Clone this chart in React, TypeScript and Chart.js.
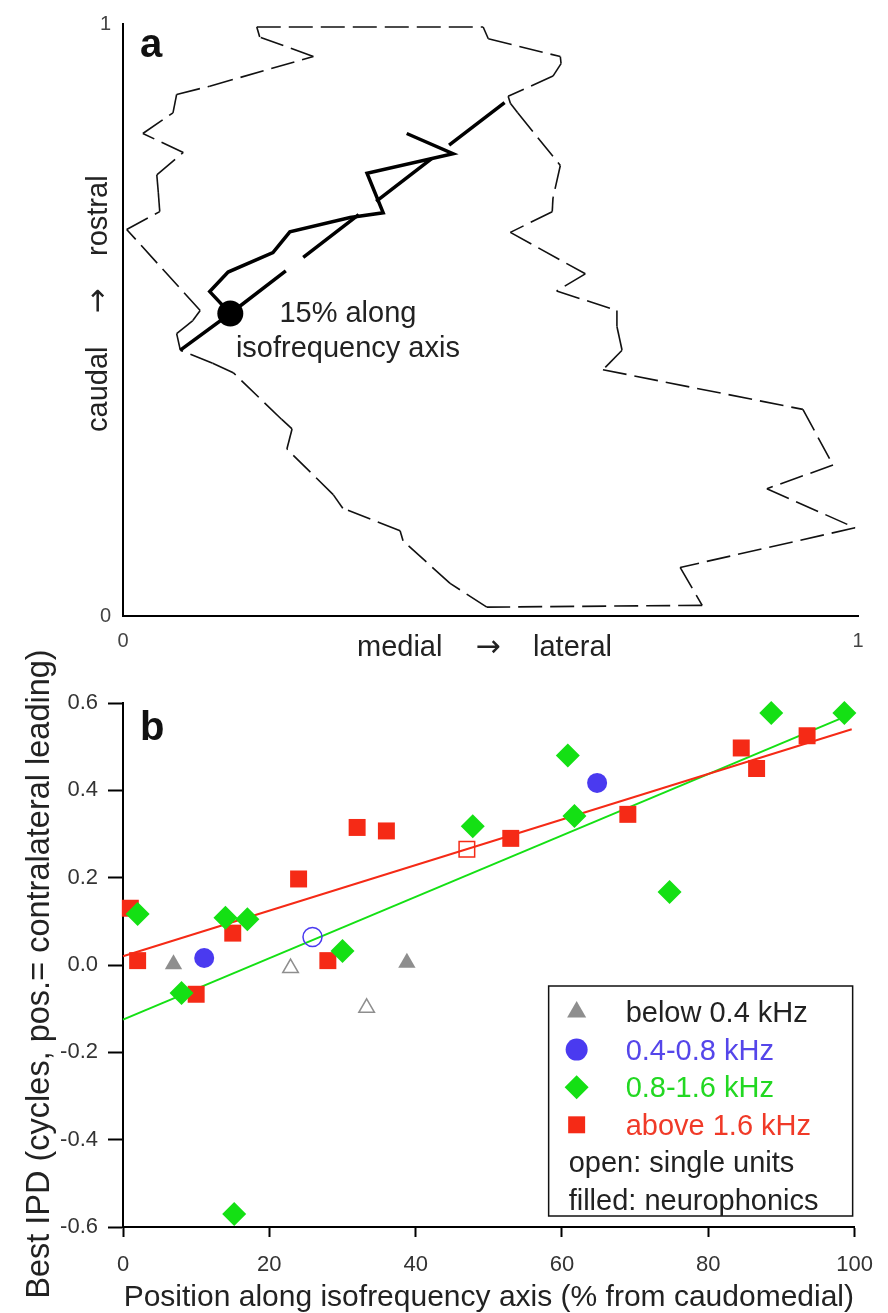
import React, { useEffect, useRef } from 'react';
import { Chart, registerables } from 'chart.js';
Chart.register(...registerables);

const FONT = "'Liberation Sans', Arial, Helvetica, sans-serif";
const ARROW_FONT = "'DejaVu Sans', sans-serif";

// ---------- Panel a data (normalised 0..1 coordinates) ----------
const outlineX = [0.182, 0.490, 0.497, 0.595, 0.596, 0.585, 0.524, 0.527, 0.537, 0.595, 0.585, 0.584, 0.527, 0.629, 0.590, 0.672, 0.672, 0.679, 0.653, 0.925, 0.966, 0.876, 0.996, 0.758, 0.788, 0.495, 0.445, 0.381, 0.377, 0.299, 0.286, 0.223, 0.230, 0.216, 0.150, 0.122, 0.078, 0.073, 0.095, 0.105, 0.005, 0.050, 0.048, 0.046, 0.082, 0.027, 0.068, 0.073, 0.118, 0.259, 0.186, 0.182];
const outlineY = [0.995, 0.995, 0.975, 0.945, 0.933, 0.912, 0.878, 0.866, 0.850, 0.761, 0.706, 0.683, 0.648, 0.578, 0.549, 0.516, 0.489, 0.449, 0.416, 0.349, 0.255, 0.215, 0.149, 0.082, 0.018, 0.015, 0.055, 0.127, 0.144, 0.182, 0.205, 0.282, 0.316, 0.332, 0.411, 0.427, 0.449, 0.477, 0.499, 0.516, 0.653, 0.683, 0.716, 0.745, 0.783, 0.815, 0.850, 0.881, 0.895, 0.945, 0.978, 0.995];
const pathX = [0.078, 0.146, 0.118, 0.143, 0.204, 0.227, 0.309, 0.354, 0.332, 0.449, 0.386];
const pathY = [0.449, 0.511, 0.548, 0.581, 0.614, 0.649, 0.673, 0.681, 0.748, 0.781, 0.815];
const isoAxisX = [0.146, 0.522];
const isoAxisY = [0.511, 0.870];
const dotX = [0.146];
const dotY = [0.511];
const aAxisTicks = [0, 1];
const aXTitle = ['medial', '→', 'lateral'];
const aYTitle = ['caudal', '→', 'rostral'];

// ---------- Panel b data ----------
const lowFilledX = [6.9, 38.8];
const lowFilledY = [0.002, 0.005];
const lowOpenX = [22.9, 33.3];
const lowOpenY = [-0.007, -0.098];
const midFilledX = [11.1, 64.8];
const midFilledY = [0.016, 0.417];
const midOpenX = [25.9];
const midOpenY = [0.064];
const greenX = [2, 8, 14, 15.2, 17, 30, 47.8, 60.8, 61.7, 74.7, 88.6, 98.6];
const greenY = [0.117, -0.064, 0.108, -0.57, 0.105, 0.032, 0.318, 0.48, 0.341, 0.167, 0.577, 0.577];
const redFilledX = [1, 2, 10, 15, 24, 28, 32, 36, 53, 69, 84.5, 86.6, 93.5];
const redFilledY = [0.13, 0.01, -0.067, 0.073, 0.197, 0.01, 0.315, 0.307, 0.29, 0.345, 0.497, 0.45, 0.525];
const redOpenX = [47];
const redOpenY = [0.265];
const redFitX = [0, 99.6];
const redFitY = [0.02, 0.54];
const greenFitX = [0, 99.6];
const greenFitY = [-0.125, 0.575];
const legendLabels = ['below 0.4 kHz', '0.4-0.8 kHz', '0.8-1.6 kHz', 'above 1.6 kHz'];
const legendNotes = ['open: single units', 'filled: neurophonics'];

const GRAY = '#8e8e8e';
const BLUE = '#4a3af0';
const GREEN = '#14e014';
const RED = '#f52a16';
const TEXT_COLORS = ['#222', '#5546ea', '#22d822', '#f03a28'];

const pts = (xs: number[], ys: number[]) => xs.map((x, i) => ({ x, y: ys[i] }));

function drawMarker(ctx: CanvasRenderingContext2D, style: string, x: number, y: number, r: number, color: string) {
  ctx.save();
  ctx.fillStyle = color;
  ctx.beginPath();
  if (style === 'triangle') {
    ctx.moveTo(x, y - r);
    ctx.lineTo(x + 0.866 * r, y + 0.5 * r);
    ctx.lineTo(x - 0.866 * r, y + 0.5 * r);
    ctx.closePath();
  } else if (style === 'circle') {
    ctx.arc(x, y, r, 0, Math.PI * 2);
  } else if (style === 'rectRot') {
    ctx.moveTo(x, y - r);
    ctx.lineTo(x + r, y);
    ctx.lineTo(x, y + r);
    ctx.lineTo(x - r, y);
    ctx.closePath();
  } else {
    const s = r * Math.SQRT1_2;
    ctx.rect(x - s, y - s, 2 * s, 2 * s);
  }
  ctx.fill();
  ctx.restore();
}

// draws "word  →  word" starting at the current origin, baseline y = 0
function drawArrowTitle(ctx: CanvasRenderingContext2D, parts: string[]) {
  ctx.textBaseline = 'alphabetic';
  ctx.fillStyle = '#222';
  ctx.font = `29px ${FONT}`;
  ctx.textAlign = 'left';
  ctx.fillText(parts[0], 0, 0);
  ctx.font = `30px ${ARROW_FONT}`;
  ctx.textAlign = 'center';
  ctx.fillText(parts[1], 131, 0);
  ctx.font = `29px ${FONT}`;
  ctx.textAlign = 'left';
  ctx.fillText(parts[2], 176, 0);
}

const B_TOP = 640; // page y where panel b canvas starts

export default function App() {
  const refA = useRef<HTMLCanvasElement>(null);
  const refB = useRef<HTMLCanvasElement>(null);

  useEffect(() => {
    // ---------------- Panel a ----------------
    const textA = {
      id: 'textA',
      afterDraw(chart: any) {
        const { ctx, scales } = chart;
        ctx.save();
        ctx.fillStyle = '#111';
        ctx.font = `bold 40px ${FONT}`;
        ctx.textAlign = 'left';
        ctx.textBaseline = 'alphabetic';
        ctx.fillText('a', 140, 57);
        ctx.font = `29px ${FONT}`;
        ctx.fillStyle = '#222';
        ctx.textAlign = 'center';
        const cx = scales.x.getPixelForValue(0.306);
        ctx.fillText('15% along', cx, 322);
        ctx.fillText('isofrequency axis', cx, 357);
        ctx.restore();

        ctx.save();
        ctx.translate(357, 656);
        drawArrowTitle(ctx, aXTitle);
        ctx.restore();
        ctx.save();
        ctx.translate(107, 432);
        ctx.rotate(-Math.PI / 2);
        drawArrowTitle(ctx, aYTitle);
        ctx.restore();
      },
    };

    const chartA = new Chart(refA.current as HTMLCanvasElement, {
      type: 'scatter',
      data: {
        datasets: [
          { data: pts(dotX, dotY), pointRadius: 13, pointHoverRadius: 13, backgroundColor: '#000', borderColor: '#000', borderWidth: 0, showLine: false, clip: false } as any,
          { data: pts(pathX, pathY), showLine: true, borderColor: '#000', borderWidth: 3.5, pointRadius: 0, borderJoinStyle: 'miter', clip: false } as any,
          { data: pts(isoAxisX, isoAxisY), showLine: true, borderColor: '#000', borderWidth: 3.5, borderDash: [70, 22], pointRadius: 0, clip: false } as any,
          {
            data: pts(outlineX, outlineY), showLine: true, borderColor: '#111', borderWidth: 1.6, borderDash: [24, 8], pointRadius: 0, clip: false,
            segment: { borderDashOffset: (c: any) => (c.p0DataIndex % 2) * 0.01 },
          } as any,
        ],
      },
      options: {
        responsive: false,
        animation: false,
        devicePixelRatio: 1,
        layout: { padding: { top: 17, right: 30, left: 0, bottom: 0 } },
        plugins: { legend: { display: false }, tooltip: { enabled: false } },
        scales: {
          x: {
            type: 'linear', min: 0, max: 1,
            afterBuildTicks: (s: any) => { s.ticks = aAxisTicks.map((v) => ({ value: v })); },
            grid: { display: false, drawTicks: false },
            border: { display: true, color: '#000', width: 2 },
            ticks: { font: { size: 20, family: FONT }, color: '#444', padding: 13, callback: (v: any) => String(v) },
            title: { display: false },
            afterFit: (s: any) => { s.height = 64; },
          },
          y: {
            type: 'linear', min: 0, max: 1,
            afterBuildTicks: (s: any) => { s.ticks = aAxisTicks.map((v) => ({ value: v })); },
            grid: { display: false, drawTicks: false },
            border: { display: true, color: '#000', width: 2 },
            ticks: { font: { size: 20, family: FONT }, color: '#444', padding: 12, callback: (v: any) => String(v) },
            title: { display: false },
            afterFit: (s: any) => { s.width = 123; },
          },
        },
      } as any,
      plugins: [textA],
    });

    // ---------------- Panel b ----------------
    const legendB = {
      id: 'legendB',
      afterDraw(chart: any) {
        const { ctx, chartArea } = chart;
        ctx.save();
        ctx.fillStyle = '#111';
        ctx.font = `bold 40px ${FONT}`;
        ctx.textAlign = 'left';
        ctx.textBaseline = 'alphabetic';
        ctx.fillText('b', 140, 740 - B_TOP);

        const right = chartArea.right - 2;
        const bottom = chartArea.bottom - 11;
        const left = right - 304;
        const top = bottom - 230;
        ctx.fillStyle = '#fff';
        ctx.fillRect(left, top, right - left, bottom - top);
        ctx.strokeStyle = '#111';
        ctx.lineWidth = 1.5;
        ctx.strokeRect(left, top, right - left, bottom - top);

        const styles = ['triangle', 'circle', 'rectRot', 'rect'];
        const colors = [GRAY, BLUE, GREEN, RED];
        const radii = [11, 11, 12, 12];
        const base0 = top + 36;
        const step = 37.6;
        ctx.font = `29px ${FONT}`;
        ctx.textAlign = 'left';
        legendLabels.forEach((lab, i) => {
          const by = base0 + i * step;
          drawMarker(ctx, styles[i], left + 28, by - 10, radii[i], colors[i]);
          ctx.fillStyle = TEXT_COLORS[i];
          ctx.fillText(lab, left + 77, by);
        });
        legendNotes.forEach((lab, j) => {
          const by = base0 + (4 + j) * step;
          ctx.fillStyle = '#222';
          ctx.fillText(lab, left + 20, by);
        });
        ctx.restore();
      },
    };

    const marker = (data: any, style: string, r: number, color: string, filled: boolean) => ({
      data,
      pointStyle: style,
      pointRadius: r,
      pointHoverRadius: r,
      backgroundColor: filled ? color : 'rgba(255,255,255,0)',
      borderColor: color,
      borderWidth: filled ? 0 : 1.5,
      showLine: false,
      clip: false,
      order: 0,
    });

    const chartB = new Chart(refB.current as HTMLCanvasElement, {
      type: 'scatter',
      data: {
        datasets: [
          marker(pts(lowFilledX, lowFilledY), 'triangle', 10, GRAY, true),
          marker(pts(lowOpenX, lowOpenY), 'triangle', 9, GRAY, false),
          marker(pts(midFilledX, midFilledY), 'circle', 10, BLUE, true),
          marker(pts(midOpenX, midOpenY), 'circle', 9.5, BLUE, false),
          marker(pts(greenX, greenY), 'rectRot', 12, GREEN, true),
          marker(pts(redFilledX, redFilledY), 'rect', 12, RED, true),
          marker(pts(redOpenX, redOpenY), 'rect', 11, RED, false),
          { data: pts(redFitX, redFitY), showLine: true, borderColor: RED, borderWidth: 2, pointRadius: 0, clip: false, order: 1 } as any,
          { data: pts(greenFitX, greenFitY), showLine: true, borderColor: GREEN, borderWidth: 2, pointRadius: 0, clip: false, order: 2 } as any,
        ] as any,
      },
      options: {
        responsive: false,
        animation: false,
        devicePixelRatio: 1,
        layout: { padding: { top: 703 - B_TOP, right: 27, left: 0, bottom: 0 } },
        plugins: { legend: { display: false }, tooltip: { enabled: false } },
        scales: {
          x: {
            type: 'linear', min: 0, max: 100,
            grid: { display: true, drawOnChartArea: false, drawTicks: true, tickLength: 10, tickColor: '#000', tickWidth: 2 },
            border: { display: true, color: '#000', width: 2 },
            ticks: { stepSize: 20, font: { size: 22, family: FONT }, color: '#333', padding: 15 },
            title: { display: true, text: 'Position along isofrequency axis (% from caudomedial)', color: '#222', font: { size: 30, family: FONT, lineHeight: 1 }, padding: { top: 0, bottom: 0 } },
            afterFit: (s: any) => { s.height = 86; },
          },
          y: {
            type: 'linear', min: -0.6, max: 0.6,
            grid: { display: true, drawOnChartArea: false, drawTicks: true, tickLength: 15, tickColor: '#000', tickWidth: 2 },
            border: { display: true, color: '#000', width: 2 },
            ticks: {
              stepSize: 0.2, font: { size: 22, family: FONT }, color: '#333', padding: 10,
              callback: (v: any) => { const n = Number(v); return Math.abs(n) < 1e-9 ? '0.0' : n.toFixed(1); },
            },
            title: { display: true, text: 'Best IPD (cycles, pos.= contralateral leading)  ', color: '#222', font: { size: 32.5, family: FONT, lineHeight: 1 }, padding: { top: 24, bottom: 0 } },
            afterFit: (s: any) => { s.width = 123; },
          },
        },
      } as any,
      plugins: [legendB],
    });

    return () => { chartA.destroy(); chartB.destroy(); };
  }, []);

  return (
    <div style={{ position: 'absolute', left: 0, top: 0, width: 888, height: 1313, background: '#fff' }}>
      <canvas ref={refA} width={888} height={680} style={{ position: 'absolute', left: 0, top: 0, width: 888, height: 680 }} />
      <canvas ref={refB} width={888} height={1313 - B_TOP} style={{ position: 'absolute', left: 0, top: B_TOP, width: 888, height: 1313 - B_TOP }} />
    </div>
  );
}
